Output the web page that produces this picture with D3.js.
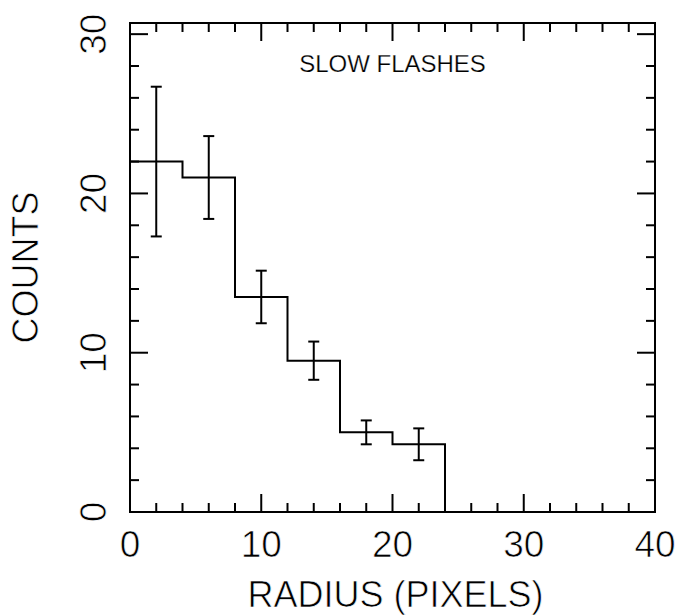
<!DOCTYPE html>
<html>
<head>
<meta charset="utf-8">
<script src="https://cdn.jsdelivr.net/npm/d3@7"></script>
<style>
  body { margin: 0; background: #fff; }
  svg text { font-family: "Liberation Sans", Arial, sans-serif; fill: #000; stroke: #fff; stroke-width: 0.7px; }
  svg text.note { stroke-width: 0.25px; }
  .frame, .hist, .err, .tick { stroke: #000; fill: none; stroke-width: 2; }
</style>
</head>
<body>
<svg width="682" height="616"></svg>
<script>
// histogram bins (radius in pixels) and counts
const binEdges = [0, 4, 8, 12, 16, 20, 24];
const counts = [22, 21, 13.5, 9.5, 5, 4.25];
const errors = [4.7, 2.6, 1.65, 1.2, 0.75, 1.0];
const xTicks = [0, 10, 20, 30, 40];
const yTicks = [0, 10, 20, 30];

const svg = d3.select('svg');
const plotLeft = 130, plotRight = 655, plotTop = 23, plotBottom = 512;

const x = d3.scaleLinear().domain([0, 40]).range([plotLeft, plotRight]);
const y = d3.scaleLinear().domain([0, 30.7]).range([plotBottom, plotTop]);

// frame
svg.append('rect')
  .attr('class', 'frame')
  .attr('x', plotLeft).attr('y', plotTop)
  .attr('width', plotRight - plotLeft).attr('height', plotBottom - plotTop);

// ticks on all four sides, pointing inwards
const major = 18, minor = 9;
const xMinor = d3.range(0, 40.1, 2);
const yMinor = d3.range(0, 30.1, 2);
const isMajor = v => Math.abs(v % 10) < 1e-6;

xMinor.forEach(v => {
  const len = isMajor(v) ? major : minor;
  svg.append('line').attr('class', 'tick')
    .attr('x1', x(v)).attr('x2', x(v)).attr('y1', plotBottom).attr('y2', plotBottom - len);
  svg.append('line').attr('class', 'tick')
    .attr('x1', x(v)).attr('x2', x(v)).attr('y1', plotTop).attr('y2', plotTop + len);
});
yMinor.forEach(v => {
  const len = isMajor(v) ? major : minor;
  svg.append('line').attr('class', 'tick')
    .attr('x1', plotLeft).attr('x2', plotLeft + len).attr('y1', y(v)).attr('y2', y(v));
  svg.append('line').attr('class', 'tick')
    .attr('x1', plotRight).attr('x2', plotRight - len).attr('y1', y(v)).attr('y2', y(v));
});

// tick labels
svg.selectAll('.xlab')
  .data(xTicks)
  .enter().append('text')
  .attr('class', 'xlab')
  .attr('x', d => x(d))
  .attr('y', 557)
  .attr('text-anchor', 'middle')
  .style('font-size', '37px')
  .text(d => d);

svg.selectAll('.ylab')
  .data(yTicks)
  .enter().append('text')
  .attr('class', 'ylab')
  .attr('transform', d => `translate(106, ${y(d)}) rotate(-90)`)
  .attr('text-anchor', 'middle')
  .style('font-size', '37px')
  .text(d => d);

// axis titles
svg.append('text')
  .attr('x', (plotLeft + plotRight) / 2 + 3)
  .attr('y', 607)
  .attr('text-anchor', 'middle')
  .style('font-size', '36px')
  .text('RADIUS (PIXELS)');

svg.append('text')
  .attr('transform', `translate(38, ${(plotTop + plotBottom) / 2}) rotate(-90)`)
  .attr('text-anchor', 'middle')
  .style('font-size', '36px')
  .text('COUNTS');

svg.append('text')
  .attr('class', 'note')
  .attr('x', (plotLeft + plotRight) / 2)
  .attr('y', 72)
  .attr('text-anchor', 'middle')
  .style('font-size', '24px')
  .text('SLOW  FLASHES');

// histogram as a step line
const pts = [];
counts.forEach((c, i) => {
  pts.push([binEdges[i], c]);
  pts.push([binEdges[i + 1], c]);
});
pts.push([binEdges[binEdges.length - 1], 0]);
pts.push([40, 0]);

const line = d3.line().x(d => x(d[0])).y(d => y(d[1]));
svg.append('path').attr('class', 'hist').attr('d', line(pts));

// error bars at bin centres
const cap = 5.5;
counts.forEach((c, i) => {
  const cx = x((binEdges[i] + binEdges[i + 1]) / 2);
  const g = svg.append('g').attr('class', 'err');
  g.append('line').attr('x1', cx).attr('x2', cx)
    .attr('y1', y(c - errors[i])).attr('y2', y(c + errors[i]));
  [c - errors[i], c + errors[i]].forEach(v => {
    g.append('line').attr('x1', cx - cap).attr('x2', cx + cap)
      .attr('y1', y(v)).attr('y2', y(v));
  });
});
</script>
</body>
</html>
